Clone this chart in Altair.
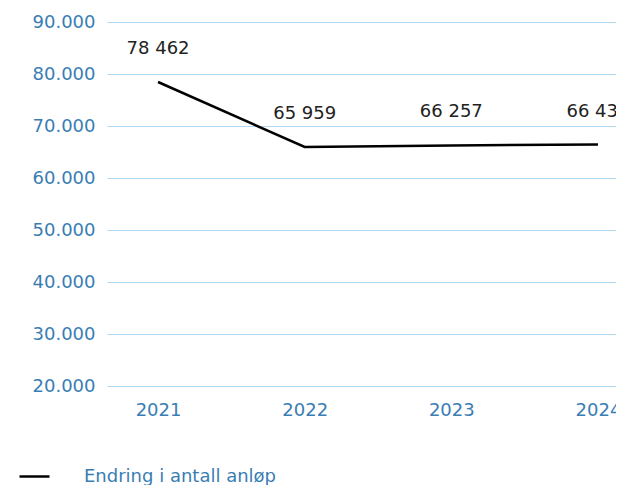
import altair as alt
import pandas as pd

years = ["2021", "2022", "2023", "2024"]
values = [78462, 65959, 66257, 66439]
series_name = "Endring i antall anløp"
y_ticks = [20000, 30000, 40000, 50000, 60000, 70000, 80000, 90000]

df = pd.DataFrame({"year": years, "value": values, "serie": [series_name] * len(years)})

FONT = "DejaVu Sans"
AXIS_BLUE = "#3a7db3"
GRID = "#b0daf2"

x_enc = alt.X(
    "year:O",
    sort=years,
    scale=alt.Scale(type="point", range=[0, 542], padding=0.348),
    axis=alt.Axis(title=None, labelAngle=0, domain=False, ticks=False, tickSize=0,
                  labelPadding=15, labelFont=FONT, labelFontSize=18,
                  labelColor=AXIS_BLUE, grid=False),
)
y_enc = alt.Y(
    "value:Q",
    scale=alt.Scale(domain=[20000, 90000], nice=False, zero=False),
    axis=alt.Axis(title=None, values=y_ticks, domain=False, ticks=False, tickSize=0,
                  labelPadding=12, labelFont=FONT, labelFontSize=18,
                  labelColor=AXIS_BLUE, gridColor=GRID, gridWidth=1,
                  labelExpr="replace(format(datum.value, ','), ',', '.')"),
)

line = alt.Chart(df).mark_line(strokeWidth=2.5).encode(
    x=x_enc,
    y=y_enc,
    color=alt.Color(
        "serie:N",
        scale=alt.Scale(range=["#000000"]),
        legend=alt.Legend(title=None, orient="none", legendX=-89, legendY=438,
                          symbolType="stroke", symbolSize=900, symbolStrokeWidth=2.5,
                          labelFont=FONT, labelFontSize=18, labelColor=AXIS_BLUE,
                          labelOffset=33, labelLimit=500),
    ),
)

labels = alt.Chart(df).transform_calculate(
    lab="replace(format(datum.value, ','), ',', ' ')"
).mark_text(dy=-33, font=FONT, fontSize=18, color="#222222").encode(
    x=alt.X("year:O", sort=years),
    y=alt.Y("value:Q"),
    text="lab:N",
)

chart = alt.layer(line, labels).properties(
    width=509,
    height=364,
    autosize=alt.AutoSizeParams(type="none"),
    padding={"left": 99, "top": 14, "right": 0, "bottom": 99},
).configure_view(stroke=None)

chart.save("out.html", embed_options={"renderer": "svg", "actions": False})
